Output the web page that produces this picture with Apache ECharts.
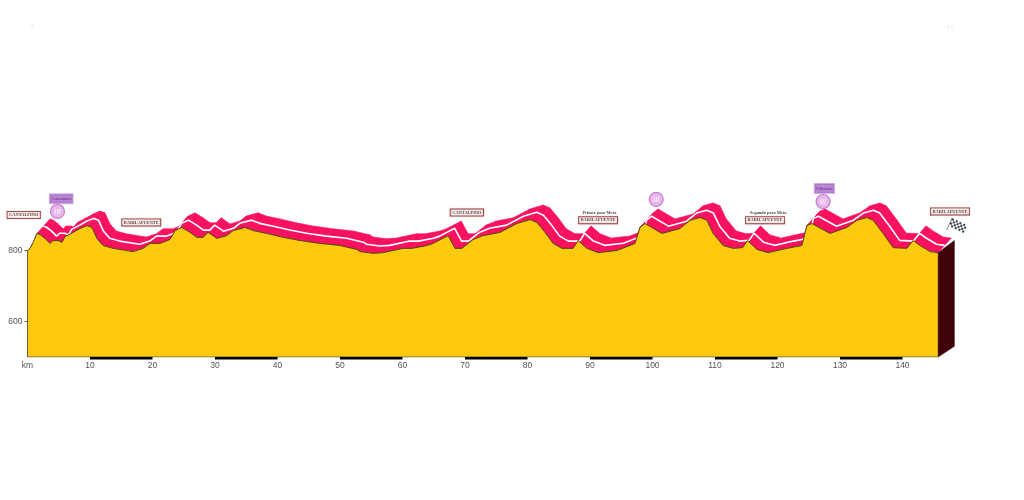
<!DOCTYPE html>
<html>
<head>
<meta charset="utf-8">
<style>html,body{margin:0;padding:0;background:#fff}#main{width:1024px;height:500px}</style>
<script src="https://cdn.jsdelivr.net/npm/echarts@6/dist/echarts.min.js"></script>
</head>
<body>
<div id="main"></div>
<script>
// profile
var kmPoints = [0,0.4,0.9,1.5,2.0,2.8,3.6,4.1,4.9,5.5,6.0,7.3,8.4,9.5,10.3,11.1,12.1,13.7,16.9,18.5,19.6,21.2,22.8,23.6,24.7,26.0,27.1,28.1,28.9,30.3,31.9,32.9,34.8,36.1,38.3,40.9,43.6,46.8,50.0,52.7,53.2,55.3,56.9,60.1,61.5,63.9,64.9,67.3,68.4,69.5,71.3,72.9,75.6,78.3,80.4,81.5,82.8,84.1,85.5,87.3,88.1,89.5,91.3,94.3,97.2,98.0,98.8,101.5,104.4,106.0,107.6,108.7,109.7,111.3,112.9,114.4,115.2,116.7,118.5,121.5,123.9,124.7,125.5,128.4,131.1,132.7,134.3,135.3,136.9,138.5,140.7,141.7,142.8,144.4,145.7];
var elevation = [800,806,823,848,845,834,820,828,828,823,839,851,862,870,865,834,814,806,797,806,820,820,831,856,865,851,837,837,851,834,842,856,865,856,848,837,828,820,814,803,797,792,794,806,806,814,820,842,806,806,831,842,851,876,887,879,851,820,806,806,828,806,794,800,820,865,876,848,862,885,893,885,848,814,806,808,828,803,794,806,814,870,876,848,865,885,893,885,848,808,806,828,814,797,794];
var xTicks = [0,10,20,30,40,50,60,70,80,90,100,110,120,130,140];
var yTicks = [600,800];
var xEnd = 145.7;
// shaded kilometres along the axis
var blackFrom = [10,30,50,70,90,110,130];
var blackTo = [20,40,60,80,100,120,140];
// end wall of the 3d block
var wallKm = [145.7,148.3,148.3,145.7];
var wallElev = [794,828,530,500];
// road ribbon offset, in axis units
var ribbonKm = 2.1;
var ribbonElev = 41;
// place labels
var placeNames = ['CANTALPINO','BARILAPUENTE','CANTALPINO','BARILAPUENTE','BARILAPUENTE','BARILAPUENTE'];
var placeKm = [-0.6,18.2,70.3,91.3,118,147.6];
var placeElev = [900,879,907,885,885,910];
var noteNames = ['Primer paso Meta','Segundo paso Meta'];
var noteKm = [91.5,118.5];
var noteElev = [907,907];
var climbNames = ['Cuestiones','Olivenza'];
var climbLabelKm = [5.4,127.5];
var climbLabelElev = [946,975];
var circleKm = [4.8,100.6,127.3];
var circleElev = [910,944,938];
var flagKm = [148.7];
var flagElev = [865];

var profile = kmPoints.map(function(k,i){return [k,elevation[i]];});
var whiteLine = profile.map(function(p){return [p[0]+ribbonKm/2,p[1]+ribbonElev/2];});
var axisBars = blackFrom.map(function(a,i){return [a,blackTo[i]];});

function ribbonItem(params,api){
  var a=[api.value(0),api.value(1)],b=[api.value(2),api.value(3)];
  var pts=[api.coord(a),api.coord(b),api.coord([b[0]+ribbonKm,b[1]+ribbonElev]),api.coord([a[0]+ribbonKm,a[1]+ribbonElev])];
  return {type:'polygon',shape:{points:pts},style:{fill:'#F9115E',stroke:'#F9115E',lineWidth:0.6}};
}
var ribbonData=[];
for(var i=3;i<profile.length-1;i++){ribbonData.push([profile[i][0],profile[i][1],profile[i+1][0],profile[i+1][1]]);}

var flagPath='path://M0 0h2v2h-2zM4 0h2v2h-2zM8 0h2v2h-2zM12 0h2v2h-2zM2 2h2v2h-2zM6 2h2v2h-2zM10 2h2v2h-2zM14 2h2v2h-2zM0 4h2v2h-2zM4 4h2v2h-2zM8 4h2v2h-2zM12 4h2v2h-2zM2 6h2v2h-2zM6 6h2v2h-2zM10 6h2v2h-2zM14 6h2v2h-2zM-0.6 0h0.6v12h-0.6z';

var myChart = echarts.init(document.getElementById('main'),null,{renderer:'canvas'});
myChart.setOption({
  animation:false,
  backgroundColor:'#fff',
  // axis runs a little past the block so the outer labels stay in range
  grid:{left:2.5,right:46.5,top:179.5,bottom:143,outerBoundsMode:'none'},
  xAxis:{type:'value',min:-4,max:152,
    axisLine:{show:false},
    axisTick:{show:false},
    splitLine:{show:false},
    axisLabel:{customValues:xTicks,color:'#555',fontSize:8.5,fontFamily:'Liberation Sans',margin:4,
      formatter:function(v){return v===0?'km':String(v);}}
  },
  yAxis:{type:'value',min:500,max:1000,offset:-25,
    axisLine:{show:false,onZero:false},
    axisTick:{show:true,customValues:yTicks,length:3,lineStyle:{color:'#555'}},
    splitLine:{show:false},
    axisLabel:{customValues:yTicks,color:'#555',fontSize:8.5,fontFamily:'Liberation Sans',margin:5}
  },
  graphic:[
    {type:'text',left:31,top:22,style:{text:'-',fill:'#aaa',fontSize:7}},
    {type:'text',left:947,top:22,style:{text:', ,',fill:'#aaa',fontSize:7}}
  ],
  series:[
    {type:'custom',z:2,renderItem:ribbonItem,data:ribbonData,silent:true},
    {type:'line',z:3,data:whiteLine.slice(3),showSymbol:false,silent:true,lineStyle:{color:'#fff',width:1.6}},
    {type:'line',z:4,data:profile,showSymbol:false,silent:true,
      lineStyle:{color:'#4a4410',width:1},
      areaStyle:{color:'#FFC90E',opacity:1,origin:'start'}},
    {type:'line',z:5,data:[[0,500],[0,800]],showSymbol:false,silent:true,lineStyle:{color:'#6b6030',width:1}},
    {type:'line',z:5,data:[[0,500],[xEnd,500]],showSymbol:false,silent:true,lineStyle:{color:'#6b6030',width:1}},
    {type:'custom',z:5,renderItem:function(p,api){
        var pts=wallKm.map(function(k,i){return api.coord([k,wallElev[i]]);});
        return {type:'polygon',shape:{points:pts},style:{fill:'#3F0309',stroke:'#2a0206',lineWidth:0.5}};
      },data:[[0]],silent:true},
    {type:'custom',z:6,renderItem:function(p,api){
        var s=api.coord([api.value(0),500]),e=api.coord([api.value(1),500]);
        return {type:'rect',shape:{x:s[0],y:s[1],width:e[0]-s[0],height:2.5},style:{fill:'#000'}};
      },data:axisBars,clip:false,silent:true},
    {type:'scatter',z:7,symbolSize:14,silent:true,
      data:circleKm.map(function(k,i){return [k,circleElev[i]];}),
      itemStyle:{color:'#E3A5E6',borderColor:'#B766C8',borderWidth:1.2},
      label:{show:true,position:'inside',formatter:'///',color:'#fff',fontSize:8,fontWeight:'bold',fontFamily:'Liberation Sans'}},
    {type:'scatter',z:8,symbolSize:0,silent:true,
      data:placeKm.map(function(k,i){return {value:[k,placeElev[i]],name:placeNames[i]};}),
      label:{show:true,position:'inside',formatter:'{b}',fontFamily:'Liberation Serif',fontSize:4.4,fontWeight:'bold',color:'#2a0a0a',
        backgroundColor:'#fff',borderColor:'#7a2020',borderWidth:1,padding:[1,1.5],
        shadowColor:'#e9a0a0',shadowBlur:1.5}},
    {type:'scatter',z:8,symbolSize:0,silent:true,
      data:noteKm.map(function(k,i){return {value:[k,noteElev[i]],name:noteNames[i]};}),
      label:{show:true,position:'inside',formatter:'{b}',fontFamily:'Liberation Serif',fontSize:4.4,fontWeight:'bold',color:'#111'}},
    {type:'scatter',z:8,symbolSize:0,silent:true,
      data:climbLabelKm.map(function(k,i){return {value:[k,climbLabelElev[i]],name:climbNames[i]};}),
      label:{show:true,position:'inside',formatter:'{b}',fontFamily:'Liberation Serif',fontSize:4.5,color:'#3a1050',
        backgroundColor:'#A865C9',borderColor:'#C9A0DC',borderWidth:1,padding:[2,1.5]}},
    {type:'scatter',z:8,silent:true,symbol:flagPath,symbolSize:[17,13],symbolRotate:-25,
      data:flagKm.map(function(k,i){return [k,flagElev[i]];}),
      itemStyle:{color:'#111c2a'}}
  ]
});
</script>
</body>
</html>
